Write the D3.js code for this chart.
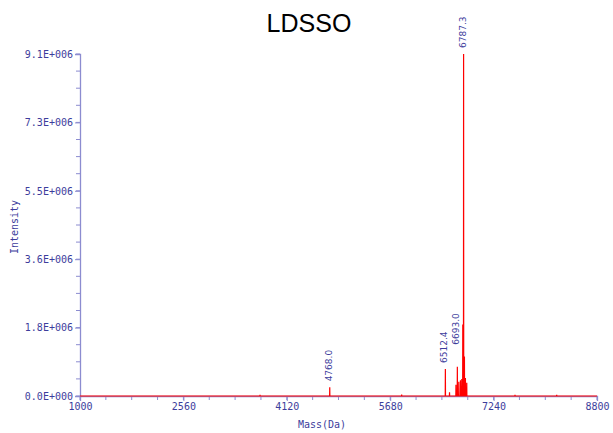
<!DOCTYPE html>
<html>
<head>
<meta charset="utf-8">
<script src="https://cdn.jsdelivr.net/npm/d3@7"></script>
<style>
  body { margin: 0; background: #fff; }
  svg { display: block; }
</style>
</head>
<body>
<script>
// spectrum peaks: mass (Da) and intensity
var peakMass = [3716, 4768.0, 5853, 6512.4, 6575, 6672, 6693.0, 6715, 6740, 6760, 6775, 6787.3, 6800, 6815, 6835, 7563, 8192];
var peakIntensity = [0.03e6, 0.23e6, 0.04e6, 0.72e6, 0.1e6, 0.3e6, 0.78e6, 0.38e6, 0.42e6, 0.45e6, 1.9e6, 9.1e6, 1.05e6, 0.48e6, 0.35e6, 0.03e6, 0.03e6];

// labelled peaks
var labelMass = [4768.0, 6512.4, 6693.0, 6787.3];
var labelText = ["4768.0", "6512.4", "6693.0", "6787.3"];

var xTicks = [1000, 2560, 4120, 5680, 7240, 8800];
var yTicks = [0, 1.82e6, 3.64e6, 5.46e6, 7.28e6, 9.1e6];
var yTickLabels = ["0.0E+000", "1.8E+006", "3.6E+006", "5.5E+006", "7.3E+006", "9.1E+006"];

var width = 613, height = 433;
var margin = {left: 80, right: 16, top: 54, bottom: 37};
var textColor = "#3d3d9c";
var axisColor = "#8c8cd0";
var monoFont = "'DejaVu Sans Mono', monospace";

var svg = d3.select("body").append("svg")
  .attr("width", width)
  .attr("height", height);

var x = d3.scaleLinear().domain([1000, 8800]).range([margin.left, width - margin.right]);
var y = d3.scaleLinear().domain([0, 9.1e6]).range([height - margin.bottom, margin.top]);

// title
svg.append("text")
  .attr("x", 309).attr("y", 32)
  .attr("text-anchor", "middle")
  .style("font-family", "'Liberation Sans', Arial, sans-serif")
  .style("font-size", "25px")
  .attr("fill", "#000")
  .text("LDSSO");

// minor ticks
var xMinor = d3.range(1000, 8801, 390);
var yMinor = d3.range(0, 9.1e6 + 1, 0.455e6);

svg.append("g").selectAll("line").data(xMinor).enter().append("line")
  .attr("x1", function (d) { return x(d); }).attr("x2", function (d) { return x(d); })
  .attr("y1", y(0)).attr("y2", y(0) + 4)
  .attr("stroke", axisColor).attr("stroke-width", 1);

svg.append("g").selectAll("line").data(yMinor).enter().append("line")
  .attr("y1", function (d) { return y(d); }).attr("y2", function (d) { return y(d); })
  .attr("x1", x(1000) - 4).attr("x2", x(1000))
  .attr("stroke", axisColor).attr("stroke-width", 1);

// x axis
var xAxis = svg.append("g")
  .attr("transform", "translate(0," + y(0) + ")")
  .call(d3.axisBottom(x).tickValues(xTicks).tickSize(5).tickPadding(2).tickFormat(d3.format("d")));

// y axis
var yAxis = svg.append("g")
  .attr("transform", "translate(" + x(1000) + ",0)")
  .call(d3.axisLeft(y).tickValues(yTicks).tickSize(5).tickPadding(2)
    .tickFormat(function (d, i) { return yTickLabels[i]; }));

[xAxis, yAxis].forEach(function (g) {
  g.select(".domain").attr("stroke", axisColor).attr("stroke-width", 1.3);
  g.selectAll(".tick line").attr("stroke", axisColor);
  g.selectAll(".tick text")
    .attr("fill", textColor)
    .style("font-family", monoFont)
    .style("font-size", "10px");
});

// axis titles
svg.append("text")
  .attr("x", 322).attr("y", 428)
  .attr("text-anchor", "middle")
  .attr("fill", textColor)
  .style("font-family", monoFont)
  .style("font-size", "10px")
  .text("Mass(Da)");

svg.append("text")
  .attr("transform", "translate(18,227) rotate(-90)")
  .attr("text-anchor", "middle")
  .attr("fill", textColor)
  .style("font-family", monoFont)
  .style("font-size", "10px")
  .text("Intensity");

// spectrum trace: baseline with narrow peaks
var trace = [[1000, 0]];
peakMass.forEach(function (m, i) {
  trace.push([m - 2, 0], [m, peakIntensity[i]], [m + 2, 0]);
});
trace.push([8800, 0]);

var line = d3.line()
  .x(function (d) { return x(d[0]); })
  .y(function (d) { return y(d[1]); });

svg.append("path")
  .datum(trace)
  .attr("d", line)
  .attr("fill", "none")
  .attr("stroke", "#ff0000")
  .attr("stroke-width", 1.2);

// peak labels, rotated
var labelLift = {"6693.0": 16};
labelMass.forEach(function (m, i) {
  var idx = peakMass.indexOf(m);
  var ty = y(peakIntensity[idx]) - 6 - (labelLift[labelText[i]] || 0);
  svg.append("text")
    .attr("transform", "translate(" + (x(m) + 2) + "," + ty + ") rotate(-90)")
    .attr("fill", textColor)
    .style("font-family", "'DejaVu Sans', sans-serif")
    .style("font-size", "9px")
    .text(labelText[i]);
});
</script>
</body>
</html>
